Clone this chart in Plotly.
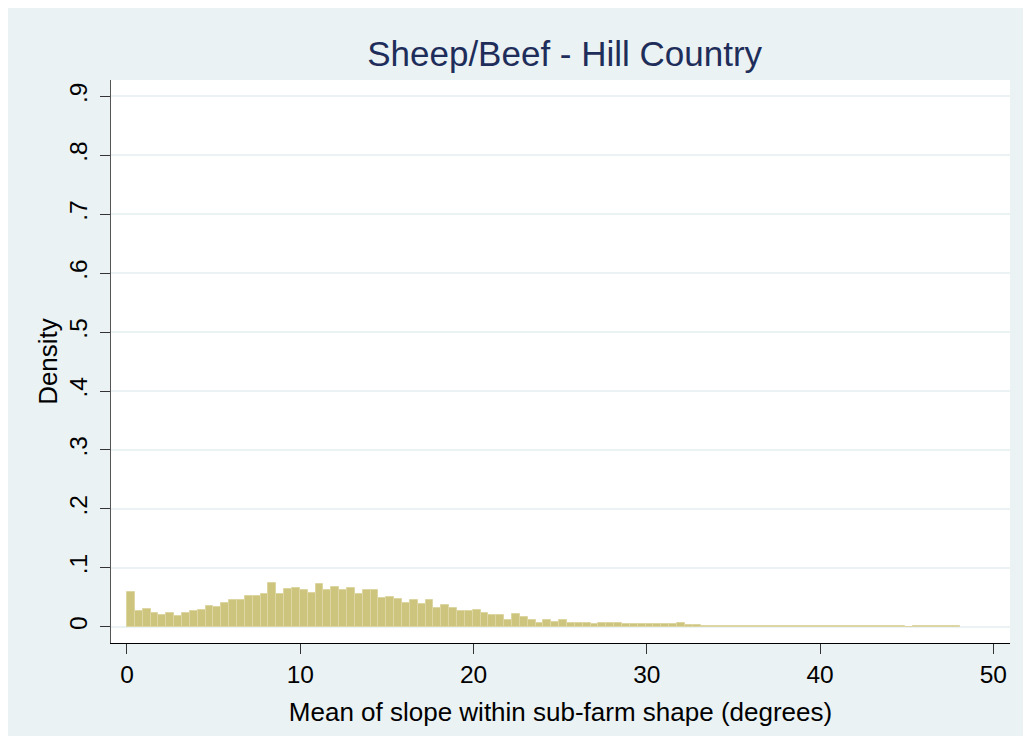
import plotly.graph_objects as go

# ---- data ----
bin_start = 0.0
bin_width = 0.4535
density = [
    0.059, 0.027, 0.030, 0.023, 0.020, 0.024, 0.018, 0.023, 0.027, 0.028,
    0.036, 0.034, 0.040, 0.045, 0.046, 0.053, 0.053, 0.056, 0.075, 0.055,
    0.064, 0.065, 0.063, 0.058, 0.073, 0.062, 0.068, 0.062, 0.066, 0.055,
    0.063, 0.062, 0.049, 0.051, 0.047, 0.041, 0.046, 0.039, 0.045, 0.031,
    0.037, 0.031, 0.027, 0.026, 0.028, 0.023, 0.020, 0.020, 0.012, 0.022,
    0.017, 0.011, 0.007, 0.012, 0.008, 0.012, 0.007, 0.007, 0.007, 0.005,
    0.006, 0.006, 0.006, 0.005, 0.005, 0.004, 0.004, 0.004, 0.004, 0.004,
    0.006, 0.003, 0.003, 0.002, 0.002, 0.002, 0.002, 0.002, 0.002, 0.002,
    0.002, 0.002, 0.002, 0.002, 0.002, 0.002, 0.002, 0.002, 0.002, 0.002,
    0.002, 0.002, 0.002, 0.002, 0.002, 0.002, 0.002, 0.002, 0.002, 0.000,
    0.002, 0.002, 0.002, 0.002, 0.002, 0.002,
]
bin_centers = [bin_start + (i + 0.5) * bin_width for i in range(len(density))]

x_ticks = [0, 10, 20, 30, 40, 50]
y_ticks = [0, 0.1, 0.2, 0.3, 0.4, 0.5, 0.6, 0.7, 0.8, 0.9]
y_tick_labels = ["0", ".1", ".2", ".3", ".4", ".5", ".6", ".7", ".8", ".9"]

title_text = "Sheep/Beef - Hill Country"
x_title = "Mean of slope within sub-farm shape (degrees)"
y_title = "Density"

# ---- style ----
BG = "#EAF2F3"
FONT = "Arial, Liberation Sans, sans-serif"

fig = go.Figure()
fig.add_trace(go.Bar(
    x=bin_centers,
    y=density,
    width=bin_width,
    marker=dict(color="#cdc47e", line=dict(color="#ddd6a2", width=1)),
    showlegend=False,
))

W, H = 1031, 736
ml, mr, mt, mb = 103, 29, 72, 101

fig.update_layout(
    width=W, height=H,
    margin=dict(l=ml, r=mr, t=mt, b=mb, pad=0),
    paper_bgcolor=BG,
    plot_bgcolor="white",
    bargap=0,
    font=dict(family=FONT, color="black"),
    title=dict(
        text=title_text,
        font=dict(family=FONT, size=35, color="#1e2d5a"),
        x=0.5046, xref="paper", xanchor="center",
        y=1 - 45.5 / H, yref="container", yanchor="middle",
    ),
    xaxis=dict(
        range=[-0.923, 50.96],
        tickvals=x_ticks,
        ticks="outside", ticklen=10, tickwidth=1, tickcolor="#333333",
        tickfont=dict(size=24.5, family=FONT, color="black"),
        showline=True, linecolor="black", linewidth=1,
        showgrid=False, zeroline=False,
        title=dict(text=x_title, font=dict(size=26, family=FONT, color="black"), standoff=15),
    ),
    yaxis=dict(
        range=[-0.0276, 0.9278],
        tickvals=y_ticks, ticktext=y_tick_labels,
        tickangle=-90,
        ticks="outside", ticklen=10, tickwidth=1, tickcolor="#333333",
        ticklabelstandoff=3,
        tickfont=dict(size=24.5, family=FONT, color="black"),
        showline=True, linecolor="#555555", linewidth=1,
        showgrid=True, gridcolor=BG, gridwidth=1.5,
        zeroline=False,
        title=dict(text=y_title, font=dict(size=26, family=FONT, color="black"), standoff=0),
    ),
)

fig.write_html("out.html")
